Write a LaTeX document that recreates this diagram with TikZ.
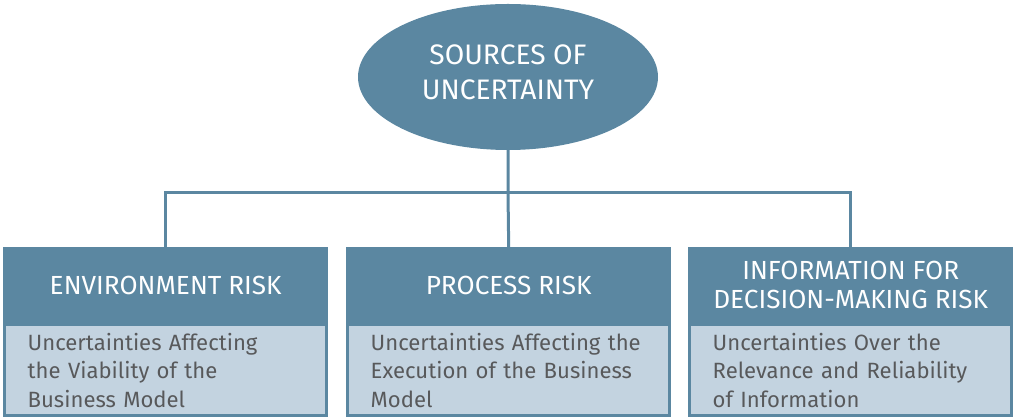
\documentclass[tikz,border=0pt]{standalone}
\usepackage{fontspec}
\setmainfont{Fira Sans}
\usetikzlibrary{shapes.geometric}
\definecolor{riskdark}{HTML}{5B87A1}
\definecolor{risklight}{HTML}{C3D3E0}
\definecolor{bodytext}{HTML}{58595B}
\tikzset{
  head/.style={rectangle, fill=riskdark, text=white, anchor=north west, minimum width=325pt, minimum height=76pt, inner sep=0pt, align=center, font=\fontsize{26.2}{29}\selectfont},
  body/.style={rectangle, fill=risklight, draw=riskdark, line width=3pt, anchor=north, minimum width=322pt, minimum height=91pt, inner xsep=23pt, inner ysep=0pt, text width=276pt, align=left, text=bodytext, font=\fontsize{22.1}{28.3}\selectfont},
  link/.style={riskdark, line width=3pt}
}
\begin{document}
\begin{tikzpicture}[x=1pt, y=1pt]
	\useasboundingbox (0,0) rectangle (1013,417);
	\node[ellipse, fill=riskdark, text=white, minimum width=300pt, minimum height=146pt, inner sep=0pt, text depth=9pt, align=center, font=\fontsize{28.2}{35}\selectfont] (src) at (508,340) {SOURCES OF\\UNCERTAINTY};

	\node[head] (envhead) at (3,170) {ENVIRONMENT RISK};
	\node[body] (envbody) at (envhead.south) {Uncertainties Affecting\\the Viability of the\\Business Model};
	\node[head] (prochead) at (346,170) {PROCESS RISK};
	\node[body] (procbody) at (prochead.south) {Uncertainties Affecting the\\Execution of the Business\\Model};
	\node[head] (infohead) at (688,170) {INFORMATION FOR\\DECISION-MAKING RISK};
	\node[body] (infobody) at (infohead.south) {Uncertainties Over the\\Relevance and Reliability\\of Information};

	\coordinate (bar) at (508,224);
	\draw[link] (src.south) -- (bar) -- (prochead.north);
	\draw[link] (envhead.north) |- (bar) -| (infohead.north);
\end{tikzpicture}
\end{document}
